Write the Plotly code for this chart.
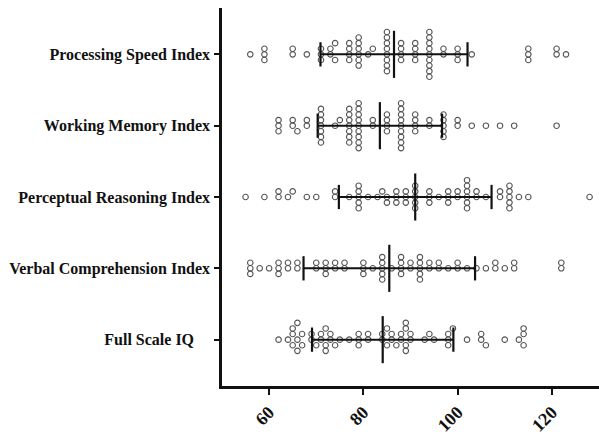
import plotly.graph_objects as go

# Categories, bottom to top
categories = ["Full Scale IQ", "Verbal Comprehension Index", "Perceptual Reasoning Index",
              "Working Memory Index", "Processing Speed Index"]
tick_text = ["Full Scale IQ\u00a0\u00a0\u00a0\u00a0", "Verbal Comprehension Index", "Perceptual Reasoning Index",
             "Working Memory Index", "Processing Speed Index"]

fsiq = [62, 64, 65, 65, 65, 66, 66, 66, 67, 67, 69, 69, 70, 71, 71, 72, 72, 72, 73, 73, 74, 75,
        77, 79, 79, 79, 81, 81, 84, 84, 85, 85, 86, 86, 87, 88, 88, 89, 89, 89, 89, 90, 90,
        93, 94, 95, 98, 98, 98, 99, 102, 105, 105, 106, 110, 113, 114, 114, 114]
vci = [56, 56, 56, 58, 60, 62, 62, 62, 64, 64, 66, 66, 70, 70, 72, 72, 72, 74, 74, 76, 76,
       80, 80, 80, 82, 84, 84, 84, 84, 84, 86, 88, 88, 88, 88, 90, 90, 92, 92, 92, 92, 92,
       94, 94, 96, 96, 98, 100, 100, 102, 104, 106, 108, 108, 110, 112, 112, 122, 122]
pri = [55, 59, 62, 62, 64, 65, 68, 70, 74, 74, 77, 79, 79, 79, 79, 79, 81, 83, 84, 85, 85,
       87, 87, 87, 89, 89, 89, 91, 91, 91, 91, 91, 94, 94, 94, 96, 98, 98, 98, 100, 100,
       102, 102, 102, 102, 102, 102, 104, 104, 106, 109, 109, 111, 111, 111, 111, 111,
       113, 115, 128]
wmi = [62, 62, 62, 65, 65, 66, 68, 68, 71, 71, 71, 71, 71, 71, 71, 74, 75, 77, 77, 77, 77,
       77, 77, 77, 79, 79, 79, 79, 79, 79, 79, 79, 79, 82, 82, 85, 85, 85, 85, 88, 88, 88,
       88, 88, 88, 88, 88, 88, 91, 91, 91, 91, 94, 94, 97, 97, 97, 97, 97, 100, 100, 103,
       106, 109, 112, 121]
psi = [56, 59, 59, 59, 65, 65, 68, 71, 71, 71, 73, 73, 74, 74, 77, 77, 77, 77, 79, 79, 79,
       79, 79, 79, 81, 82, 85, 85, 85, 85, 85, 85, 85, 85, 88, 88, 88, 88, 91, 91, 91, 91,
       94, 94, 94, 94, 94, 94, 94, 94, 94, 97, 97, 100, 100, 100, 103, 115, 115, 115, 121,
       121, 123]
series = [fsiq, vci, pri, wmi, psi]

# Mean and SD
means = [84.1, 85.5, 91.0, 83.5, 86.5]
sds = [15.0, 18.2, 16.2, 13.2, 15.6]

x_ticks = [60, 80, 100, 120]

# layout geometry
W, H = 599, 437
ML, MR, MT, MB = 222, 0, 8, 51
XR = [50, 130]
YR = [-0.65, 4.65]
px_x = (W - ML - MR) / (XR[1] - XR[0])
px_y = (H - MT - MB) / (YR[1] - YR[0])
DIAM = 5.6


def swarm(values):
    vals = sorted(values)
    placed = []
    offs = []
    step = DIAM / 2
    cands = [0.0] + [s * step * i for i in range(1, 60) for s in (1, -1)]
    for v in vals:
        xp = v * px_x
        for c in cands:
            ok = True
            for (qx, qy) in placed:
                if (xp - qx) ** 2 + (c - qy) ** 2 < DIAM ** 2 - 1e-6:
                    ok = False
                    break
            if ok:
                break
        placed.append((xp, c))
        offs.append(c / px_y)
    return vals, offs


fig = go.Figure()
for i, vals in enumerate(series):
    xs, offs = swarm(vals)
    fig.add_trace(go.Scatter(
        x=xs, y=[i + o for o in offs], mode="markers",
        marker=dict(symbol="circle-open", size=5.5, color="#555555", line=dict(width=1.1, color="#555555")),
        showlegend=False, hoverinfo="x"))

for i, (m, s) in enumerate(zip(means, sds)):
    # SD horizontal bar
    fig.add_trace(go.Scatter(x=[m - s, m + s], y=[i, i], mode="lines",
                             line=dict(color="#111111", width=2), showlegend=False, hoverinfo="skip"))
    # SD caps
    for e in (m - s, m + s):
        fig.add_trace(go.Scatter(x=[e, e], y=[i - 0.17, i + 0.17], mode="lines",
                                 line=dict(color="#111111", width=2.2), showlegend=False, hoverinfo="skip"))
    # mean line
    fig.add_trace(go.Scatter(x=[m, m], y=[i - 0.33, i + 0.33], mode="lines",
                             line=dict(color="#111111", width=2.2), showlegend=False, hoverinfo="skip"))

fig.update_layout(
    width=W, height=H,
    margin=dict(l=ML, r=MR, t=MT, b=MB),
    plot_bgcolor="white", paper_bgcolor="white",
    xaxis=dict(range=XR, tickvals=x_ticks, ticks="outside", ticklen=6, tickwidth=2,
               tickcolor="#111111", showline=True, linecolor="#111111", linewidth=2.5,
               showgrid=False, zeroline=False, tickangle=-45, automargin=False,
               tickfont=dict(family="Liberation Serif", size=18, color="#111111", weight="bold")),
    yaxis=dict(range=YR, tickvals=list(range(len(categories))), ticktext=tick_text,
               ticks="outside", ticklen=5, tickwidth=2, tickcolor="#111111",
               showline=True, linecolor="#111111", linewidth=2.5, showgrid=False,
               zeroline=False, automargin=False, ticklabelstandoff=1,
               tickfont=dict(family="Liberation Serif", size=16, color="#111111", weight="bold")),
)

fig.write_html("out.html", config={"displayModeBar": False},
               post_script="document.body.style.margin='0px';document.body.style.overflow='hidden';")
